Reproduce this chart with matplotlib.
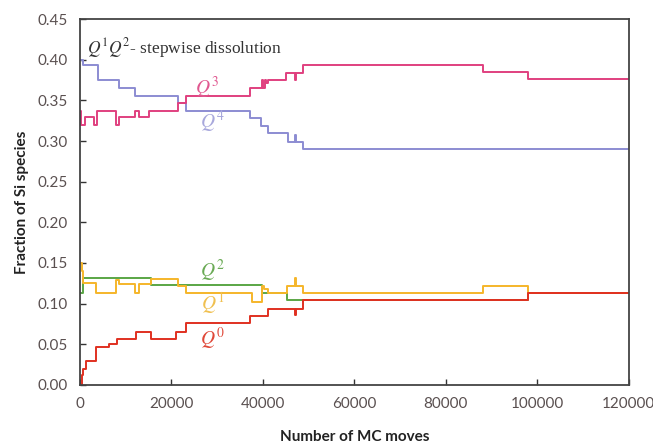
import numpy as np
import matplotlib
matplotlib.use("Agg")
from matplotlib import pyplot as plt

# step data: (MC moves where value changes, fraction)
q4_x = [0, 700, 3900, 8500, 12000, 21400, 23200, 37200, 39500, 41000, 45400, 47000, 47300, 48700, 120000]
q4_y = [0.400, 0.394, 0.375, 0.365, 0.355, 0.347, 0.337, 0.328, 0.318, 0.310, 0.299, 0.308, 0.299, 0.290, 0.290]

q3_x = [0, 300, 1200, 3100, 3800, 7900, 8600, 12100, 13000, 15100, 21400, 23200, 37200, 39800, 40100,
        40400, 40700, 41000, 45000, 47000, 47300, 48800, 88100, 97900, 120000]
q3_y = [0.337, 0.320, 0.330, 0.320, 0.337, 0.320, 0.330, 0.337, 0.330, 0.337, 0.347, 0.355, 0.365, 0.375, 0.365,
        0.375, 0.371, 0.375, 0.384, 0.375, 0.384, 0.393, 0.385, 0.376, 0.376]

q2_x = [0, 600, 15500, 39700, 45300, 97900, 120000]
q2_y = [0.113, 0.131, 0.123, 0.113, 0.104, 0.113, 0.113]

q1_x = [0, 400, 700, 3500, 7900, 8600, 12000, 13000, 15500, 21500, 23200, 37600, 39800, 40300, 41000,
        45300, 47000, 47300, 48800, 88100, 97900, 120000]
q1_y = [0.150, 0.140, 0.125, 0.113, 0.129, 0.124, 0.113, 0.124, 0.130, 0.122, 0.113, 0.102, 0.122, 0.118, 0.113,
        0.122, 0.131, 0.122, 0.113, 0.122, 0.113, 0.113]

q0_x = [0, 370, 730, 1300, 3600, 6400, 8200, 12200, 15500, 21000, 23200, 37200, 41100, 47000, 47300, 48800, 97900, 120000]
q0_y = [0.000, 0.012, 0.020, 0.029, 0.047, 0.050, 0.056, 0.0656, 0.056, 0.0656, 0.0765, 0.085, 0.0934, 0.086, 0.0934, 0.104, 0.113, 0.113]

series = [
    (q4_x, q4_y, '#8c8cd2', '#a8a8dc', r'$Q^4$', 29000, 0.3235),
    (q3_x, q3_y, '#e0407f', '#e05890', r'$Q^3$', 27800, 0.365),
    (q2_x, q2_y, '#5aa645', '#6aaa55', r'$Q^2$', 29000, 0.140),
    (q1_x, q1_y, '#f5b62a', '#f0c050', r'$Q^1$', 29000, 0.101),
    (q0_x, q0_y, '#e03020', '#e04838', r'$Q^0$', 29000, 0.0566),
]

plt.rcParams['mathtext.fontset'] = 'stix'
plt.rcParams['font.family'] = ['Lato', 'DejaVu Sans']

fig = plt.figure(figsize=(6.53, 4.43), dpi=100)
ax = fig.add_axes([0.1225, 0.131, 0.8405, 0.826])

for x, y, c, tc, lab, lx, ly in series:
    ax.step(x, y, where='post', color=c, lw=1.4)
    ax.text(lx, ly, lab, color=tc, fontsize=14, ha='center', va='center')

ax.text(0.012, 0.955, r'$Q^1Q^2$- stepwise dissolution', transform=ax.transAxes,
        fontsize=12.5, color='#333333', family='Liberation Serif', va='top', ha='left')

ax.set_xlim(0, 120000)
ax.set_ylim(0, 0.45)
ax.set_xticks(np.arange(0, 120001, 20000))
ax.set_yticks(np.arange(0, 0.451, 0.05))
ax.set_yticklabels(['%.2f' % v for v in np.arange(0, 0.451, 0.05)])
ax.tick_params(direction='in', length=4, width=1, color='#333333', labelcolor='#5a5050', labelsize=11, pad=9)
for s in ax.spines.values():
    s.set_color('#444444')
    s.set_linewidth(1.3)

ax.set_xlabel('Number of MC moves', fontsize=11, fontweight='bold', color='#222222', labelpad=13)
ax.set_ylabel('Fraction of Si species', fontsize=11, fontweight='bold', color='#222222', labelpad=6)

fig.savefig('out.png', dpi=100)
